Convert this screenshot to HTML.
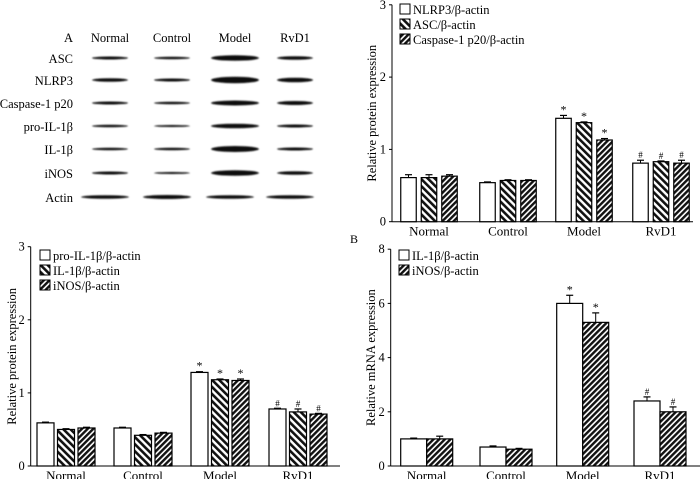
<!DOCTYPE html>
<html><head><meta charset="utf-8">
<style>
html,body{margin:0;padding:0;background:#fff;}
svg{display:block;font-family:"Liberation Serif",serif;}
</style></head>
<body>
<svg id="fig" width="700" height="479" viewBox="0 0 700 479">
<defs>
<pattern id="hatchB" patternUnits="userSpaceOnUse" width="5" height="5" patternTransform="rotate(-45)">
<rect width="5" height="5" fill="#fff"/><rect width="2.6" height="5" fill="#111"/></pattern>
<pattern id="hatchF" patternUnits="userSpaceOnUse" width="4" height="4" patternTransform="rotate(45)">
<rect width="4" height="4" fill="#fff"/><rect width="2.4" height="4" fill="#111"/></pattern>
<filter id="blur" x="-20%" y="-100%" width="140%" height="300%"><feGaussianBlur stdDeviation="0.7"/></filter>
</defs>
<g id="blot"></g>
<g id="c1"></g>
<g id="c2"></g>
<g id="c3"></g>
</svg>
<script>
const NS="http://www.w3.org/2000/svg";
const groups=["Normal","Control","Model","RvD1"];
// chart 1 data
const c1Nlrp3=[0.61,0.54,1.43,0.81];
const c1Asc=[0.61,0.57,1.37,0.83];
const c1Casp=[0.63,0.57,1.13,0.81];
const c1Err=[[0.04,0.01,0.04,0.04],[0.04,0.01,0.01,0.01],[0.02,0.01,0.02,0.04]];
const c1Ticks=[0,1,2,3];
const c1Marks=[["","","*","#"],["","","*","#"],["","","*","#"]];
const c1Legend=["NLRP3/β-actin","ASC/β-actin","Caspase-1 p20/β-actin"];
// chart 2 data
const c2Pro=[0.59,0.52,1.28,0.78];
const c2Il=[0.50,0.42,1.18,0.74];
const c2Inos=[0.52,0.45,1.17,0.71];
const c2Err=[[0.01,0.01,0.01,0.01],[0.01,0.01,0.01,0.04],[0.01,0.01,0.02,0.01]];
const c2Ticks=[0,1,2,3];
const c2Legend=["pro-IL-1β/β-actin","IL-1β/β-actin","iNOS/β-actin"];
// chart 3 data
const c3Il=[1.0,0.7,6.0,2.4];
const c3Inos=[1.0,0.62,5.3,2.0];
const c3Err=[[0.03,0.04,0.3,0.15],[0.1,0.03,0.35,0.18]];
const c3Ticks=[0,2,4,6,8];
const c3Legend=["IL-1β/β-actin","iNOS/β-actin"];
// blot data: band intensity (thickness) per row, per group
const blotRows=["ASC","NLRP3","Caspase-1 p20","pro-IL-1β","IL-1β","iNOS","Actin"];
const blotThick=[[3,2.5,5.5,3.5],[3.5,3,6.5,4.5],[3,2.5,5,4],[2.5,2,4.5,3],[2.5,2.5,6,3],[3,2,5.5,3.5],[3.5,4,3.5,3.5]];

function el(tag,attrs,parent,text){const e=document.createElementNS(NS,tag);for(const k in attrs)e.setAttribute(k,attrs[k]);if(text!==undefined)e.textContent=text;parent.appendChild(e);return e;}

// Blot
(function(){
 const g=document.getElementById('blot');
 const cx=[110,172,235,295];
 const rowY=[58,80,103,126,149,173,197];
 el('text',{x:73,y:42,'text-anchor':'end','font-size':12.5,},g,'A');
 groups.forEach((n,i)=>{
  const t=el('text',{x:cx[i],y:42,'text-anchor':'middle','font-size':12.5},g,n);
  
  
 });
 blotRows.forEach((r,j)=>{
  const t=el('text',{x:73,y:rowY[j]+5,'text-anchor':'end','font-size':12.5},g,r);
  
  
  groups.forEach((n,i)=>{
   const h=blotThick[j][i];
   const w=j===6?48:(i===2?48:36);
   const b=el('ellipse',{cx:cx[i]+(j===6?-5:0),cy:rowY[j],rx:w/2,ry:h/2,fill:'#111',filter:'url(#blur)'},g);
   
   
  });
 });
})();

function chart(gid,cfg){
 const g=document.getElementById(gid);
 const {x0,y0,unit,xEnd,centers,bw,gap,series,fills,errs,ticks,legend,legX,legY,ytitle,ytx,marks}=cfg;
 const Y=v=>y0-v*unit;
 const ax=el('line',{x1:x0,y1:Y(ticks[ticks.length-1]),x2:x0,y2:y0,stroke:'#000','stroke-width':1},g);
 
 const bx=el('line',{x1:x0,y1:y0,x2:xEnd,y2:y0,stroke:'#000','stroke-width':1},g);
 
 ticks.forEach(t=>{
  el('line',{x1:x0-3,y1:Y(t),x2:x0,y2:Y(t),stroke:'#000'},g);
  const tl=el('text',{x:x0-6,y:Y(t)+4,'text-anchor':'end','font-size':12.5},g,String(t));
  
 });
 const ym=(y0+Y(ticks[ticks.length-1]))/2;
 const yt=el('text',{x:ytx,y:ym,'text-anchor':'middle','font-size':12.5,transform:`rotate(-90 ${ytx} ${ym})`},g,ytitle);
 
 const ns=series.length;
 groups.forEach((n,i)=>{
  const xl=el('text',{x:centers[i],y:y0+14,'text-anchor':'middle','font-size':13},g,n);
  
  series.forEach((s,k)=>{
   const bx0=centers[i]-(ns*bw+(ns-1)*gap)/2+k*(bw+gap);
   const v=s[i],e=errs[k][i];
   const eb=el('line',{x1:bx0+bw/2,y1:Y(v),x2:bx0+bw/2,y2:Y(v+e),stroke:'#000'},g);
   
   el('line',{x1:bx0+bw/2-3.5,y1:Y(v+e),x2:bx0+bw/2+3.5,y2:Y(v+e),stroke:'#000','stroke-width':1.2},g);
   const r=el('rect',{x:bx0,y:Y(v),width:bw,height:v*unit,fill:fills[k],stroke:'#000','stroke-width':1.2},g);
   
   
   const m=marks?marks[k][i]:(i===2?'*':i===3?'#':'');
   if(m){const mt=el('text',{x:bx0+bw/2,y:Y(v+e)-2,'text-anchor':'middle','font-size':m==='*'?12:9},g,m);
    }
  });
 });
 legend.forEach((l,k)=>{
  const lr=el('rect',{x:legX,y:legY+k*15,width:10,height:10,fill:fills[k],stroke:'#000'},g);
  
  const lt=el('text',{x:legX+13,y:legY+k*15+10,'font-size':12.5},g,l);
  
 });
}
chart('c1',{x0:392,y0:221.7,unit:72.3,xEnd:693,centers:[429,508,584,661],bw:15.5,gap:5,
 series:[c1Nlrp3,c1Asc,c1Casp],fills:['#fff','url(#hatchB)','url(#hatchF)'],errs:c1Err,ticks:c1Ticks,
 legend:c1Legend,legX:400,legY:4,ytitle:'Relative protein expression',ytx:376,marks:c1Marks});
chart('c2',{x0:30.7,y0:466,unit:73.1,xEnd:340,centers:[66,143,220,298],bw:17,gap:3.5,
 series:[c2Pro,c2Il,c2Inos],fills:['#fff','url(#hatchB)','url(#hatchF)'],errs:c2Err,ticks:c2Ticks,
 legend:c2Legend,legX:40,legY:250,ytitle:'Relative protein expression',ytx:16});
chart('c3',{x0:390.7,y0:466,unit:27.1,xEnd:700,centers:[426.7,506,582.7,660],bw:26,gap:0,
 series:[c3Il,c3Inos],fills:['#fff','url(#hatchF)'],errs:c3Err,ticks:c3Ticks,
 legend:c3Legend,legX:399,legY:250,ytitle:'Relative mRNA expression',ytx:375});
(function(){const t=el('text',{x:350,y:243,'font-size':12},document.getElementById('c3'),'B');
 })();
</script>
</body></html>
